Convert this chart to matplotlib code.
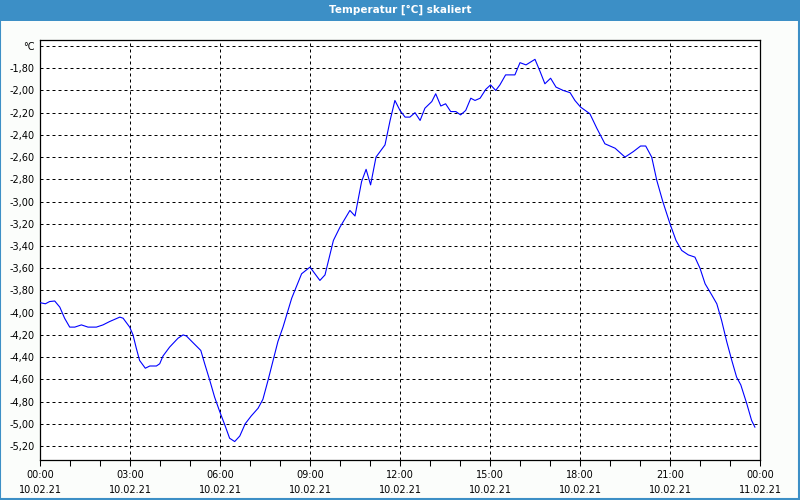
"""
Temperaturverlauf vom 10.02.21 (skaliert), nachgebaut mit matplotlib.
"""

import matplotlib
matplotlib.use("Agg")
import matplotlib.pyplot as plt
from matplotlib.patches import Rectangle

# ===============================
# 1) Daten (abgelesen aus dem Bild)
# ===============================
stunden = [
    0.00, 0.18, 0.32, 0.49, 0.66, 0.82, 0.99, 1.16, 1.38, 1.60, 1.88, 2.10,
    2.32, 2.66, 2.77, 2.99, 3.10, 3.21, 3.32, 3.51, 3.66, 3.88, 3.99, 4.10,
    4.32, 4.60, 4.77, 4.88, 5.10, 5.36, 5.49, 5.66, 5.82, 5.99, 6.16, 6.32,
    6.49, 6.66, 6.84, 7.04, 7.27, 7.43, 7.60, 7.77, 7.93, 8.10, 8.39, 8.72,
    9.00, 9.33, 9.50, 9.78, 10.00, 10.33, 10.50, 10.72, 10.87, 11.02, 11.20,
    11.50, 11.67, 11.83, 12.00, 12.17, 12.33, 12.50, 12.67, 12.83, 13.06,
    13.19, 13.36, 13.52, 13.69, 13.86, 14.02, 14.19, 14.36, 14.50, 14.67,
    14.86, 15.02, 15.19, 15.33, 15.52, 15.83, 16.00, 16.20, 16.50, 16.67,
    16.83, 17.02, 17.20, 17.44, 17.67, 17.83, 18.02, 18.33, 18.56, 18.83,
    19.17, 19.50, 19.78, 20.02, 20.19, 20.39, 20.56, 20.76, 21.00, 21.20,
    21.39, 21.61, 21.83, 22.00, 22.17, 22.39, 22.56, 22.72, 22.89, 23.06,
    23.22, 23.36, 23.56, 23.72, 23.83,
]
temperatur = [
    -3.91, -3.92, -3.90, -3.895, -3.95, -4.05, -4.13, -4.13, -4.11, -4.13,
    -4.13, -4.11, -4.08, -4.04, -4.05, -4.13, -4.20, -4.32, -4.43, -4.50,
    -4.48, -4.48, -4.46, -4.39, -4.31, -4.23, -4.20, -4.21, -4.27, -4.34,
    -4.46, -4.61, -4.76, -4.89, -5.01, -5.13, -5.16, -5.11, -5.00, -4.93,
    -4.86, -4.78, -4.61, -4.43, -4.26, -4.13, -3.87, -3.65, -3.59, -3.71,
    -3.66, -3.35, -3.23, -3.08, -3.13, -2.82, -2.71, -2.85, -2.60, -2.49,
    -2.27, -2.09, -2.18, -2.24, -2.24, -2.20, -2.27, -2.16, -2.10, -2.03,
    -2.14, -2.12, -2.19, -2.19, -2.22, -2.18, -2.07, -2.09, -2.07, -1.99,
    -1.95, -2.00, -1.95, -1.86, -1.86, -1.75, -1.77, -1.72, -1.83, -1.94,
    -1.89, -1.97, -2.00, -2.02, -2.09, -2.15, -2.21, -2.34, -2.48, -2.52,
    -2.60, -2.55, -2.50, -2.50, -2.60, -2.81, -3.00, -3.20, -3.35, -3.44,
    -3.48, -3.50, -3.60, -3.74, -3.84, -3.92, -4.07, -4.26, -4.43, -4.58,
    -4.65, -4.82, -4.97, -5.03,
]

x_ticks = [0, 3, 6, 9, 12, 15, 18, 21, 24]
x_labels = [
    "00:00\n10.02.21", "03:00\n10.02.21", "06:00\n10.02.21",
    "09:00\n10.02.21", "12:00\n10.02.21", "15:00\n10.02.21",
    "18:00\n10.02.21", "21:00\n10.02.21", "00:00\n11.02.21",
]
y_ticks = [-1.6 - 0.2 * i for i in range(19)]
y_labels = ["°C"] + [f"{v:.2f}".replace(".", ",") for v in y_ticks[1:]]

titel = "Temperatur [°C] skaliert"

# ===============================
# 2) Figur und Rahmen
# ===============================
blau = "#3c8fc6"
fig = plt.figure(figsize=(8, 5), dpi=100, facecolor="#fbfdfb")

# Titelleiste und Fensterrand
fig.patches.append(Rectangle((0, 0.959), 1, 0.041, transform=fig.transFigure,
                             facecolor=blau, edgecolor="none", zorder=0))
fig.patches.append(Rectangle((0.0006, 0.002), 0.9982, 0.96, transform=fig.transFigure,
                             facecolor="none", edgecolor=blau, linewidth=1.5, zorder=0))
fig.text(0.5, 0.981, titel, color="white", fontsize=7.5, fontweight="bold",
         ha="center", va="center", family="DejaVu Sans")

# ===============================
# 3) Diagramm
# ===============================
ax = fig.add_axes([0.05, 0.08, 0.90, 0.84])
ax.set_facecolor("white")
ax.plot(stunden, temperatur, color="#0000ff", linewidth=0.8, zorder=3)

ax.set_xlim(0, 24)
ax.set_ylim(-5.326, -1.546)

ax.set_xticks(x_ticks)
ax.set_xticklabels(x_labels, fontsize=7, linespacing=1.6)
ax.set_xticks(range(25), minor=True)
ax.set_yticks(y_ticks)
ax.set_yticklabels(y_labels, fontsize=7)

ax.tick_params(axis="x", which="both", direction="out", length=4, width=0.75,
               pad=3, colors="black")
ax.tick_params(axis="y", length=0, pad=4, colors="black")

ax.grid(True, which="major", color="black", linestyle=(0, (3, 3)),
        linewidth=0.72, zorder=1)
for spine in ax.spines.values():
    spine.set_color("black")
    spine.set_linewidth(0.9)

fig.savefig("out.png", dpi=100, facecolor=fig.get_facecolor())
